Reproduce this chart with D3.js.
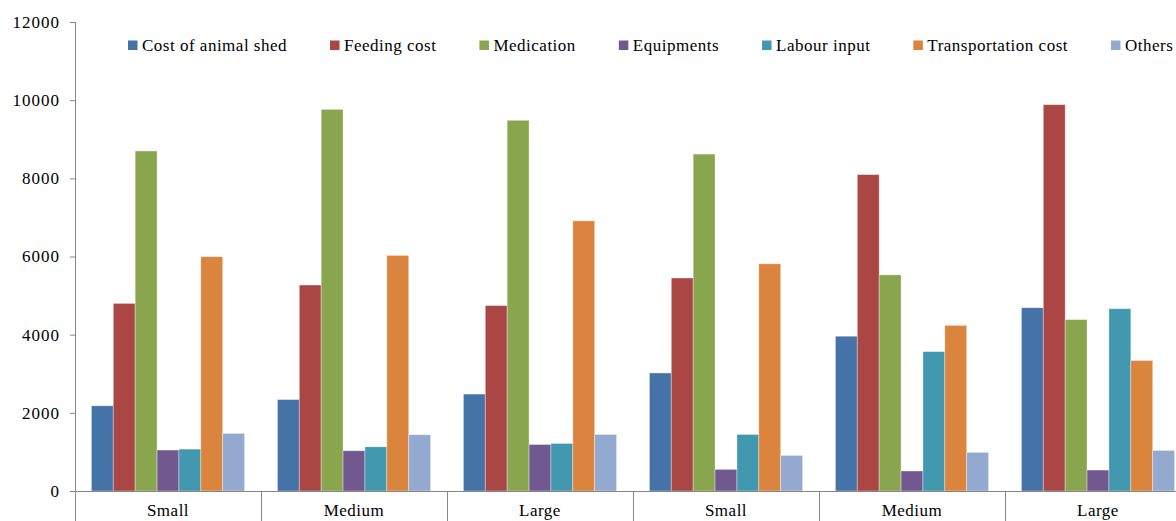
<!DOCTYPE html>
<html>
<head>
<meta charset="utf-8">
<script src="https://cdn.jsdelivr.net/npm/d3@7"></script>
<style>
    body { margin: 0; background: #fff; overflow: hidden; }
    svg text { font-family: "Liberation Serif", "Times New Roman", Times, "DejaVu Serif", serif; fill: #000; }
</style>
</head>
<body>
<svg id="chart" width="1176" height="521"></svg>
<script>
/*jslint browser: true*/

var categories = ['Small', 'Medium', 'Large', 'Small', 'Medium', 'Large'];
var seriesNames = ['Cost of animal shed', 'Feeding cost', 'Medication', 'Equipments',
    'Labour input', 'Transportation cost', 'Others'];
var seriesColors = ['#4572a7', '#aa4643', '#89a54e', '#71588f', '#4198af', '#db843d', '#93a9cf'];

var animalShed = [2180, 2340, 2480, 3020, 3960, 4690];
var feedingCost = [4800, 5270, 4745, 5450, 8095, 9885];
var medication = [8700, 9765, 9485, 8620, 5530, 4385];
var equipments = [1048, 1030, 1190, 553, 512, 536];
var labourInput = [1072, 1130, 1217, 1447, 3566, 4664];
var transportCost = [5995, 6028, 6912, 5813, 4238, 3338];
var others = [1473, 1440, 1447, 911, 988, 1039];

var yTicks = [0, 2000, 4000, 6000, 8000, 10000, 12000];

(function (d3) {
    'use strict';

    var svg = d3.select('#chart'),
        values = [animalShed, feedingCost, medication, equipments, labourInput, transportCost, others],
        serif = '"Liberation Serif", "Times New Roman", Times, "DejaVu Serif", serif',
        left = 75, bottom = 491, top = 22, step = 186,
        idx = d3.range(categories.length),
        x0, x1, y, groups, legend, lx, yAxis;

    x0 = d3.scaleBand()
        .domain(idx)
        .range([left, left + step * categories.length])
        .padding(0);

    x1 = d3.scaleBand()
        .domain(d3.range(seriesNames.length))
        .range([0, x0.bandwidth()])
        .paddingInner(0)
        .paddingOuter(0.75);

    y = d3.scaleLinear()
        .domain([0, 12000])
        .range([bottom, top]);

    // bars
    groups = svg.append('g').selectAll('g')
        .data(idx)
      .enter().append('g')
        .attr('transform', function (i) { return 'translate(' + x0(i) + ',0)'; });

    groups.selectAll('rect')
        .data(function (i) {
            return values.map(function (s, k) { return {k: k, v: s[i]}; });
        })
      .enter().append('rect')
        .attr('x', function (d) { return x1(d.k); })
        .attr('width', x1.bandwidth())
        .attr('y', function (d) { return y(d.v); })
        .attr('height', function (d) { return bottom - y(d.v); })
        .style('fill', function (d) { return seriesColors[d.k]; })
        .style('stroke', 'rgba(255,255,255,0.45)')
        .style('stroke-width', 0.8);

    // y axis
    yAxis = svg.append('g')
        .attr('transform', 'translate(' + left + ',0)')
        .call(d3.axisLeft(y).tickValues(yTicks).tickSize(5).tickPadding(10)
            .tickFormat(d3.format('d')));
    yAxis.attr('font-family', null).attr('font-size', null);
    yAxis.select('.domain').remove();
    yAxis.selectAll('line').style('stroke', '#868686');
    yAxis.selectAll('text')
        .style('font-size', '17px')
        .style('letter-spacing', '1px')
        .style('font-family', serif);
    svg.append('line')
        .attr('x1', left + 0.5).attr('x2', left + 0.5)
        .attr('y1', top).attr('y2', 521)
        .style('stroke', '#868686');

    // x axis
    svg.append('line')
        .attr('x1', left).attr('x2', 1176)
        .attr('y1', bottom + 0.5).attr('y2', bottom + 0.5)
        .style('stroke', '#868686');
    svg.append('g').selectAll('line')
        .data(idx.slice(1))
      .enter().append('line')
        .attr('x1', function (i) { return Math.round(x0(i)) + 0.5; })
        .attr('x2', function (i) { return Math.round(x0(i)) + 0.5; })
        .attr('y1', bottom)
        .attr('y2', 521)
        .style('stroke', '#868686');
    svg.append('g').selectAll('text')
        .data(idx)
      .enter().append('text')
        .attr('x', function (i) { return x0(i) + x0.bandwidth() / 2; })
        .attr('y', 516)
        .attr('text-anchor', 'middle')
        .style('font-size', '17px')
        .style('font-family', serif)
        .style('letter-spacing', '0.5px')
        .text(function (i) { return categories[i]; });

    // legend
    legend = svg.append('g');
    lx = 128;
    seriesNames.forEach(function (name, k) {
        var t;
        legend.append('rect')
            .attr('x', lx).attr('y', 40.5)
            .attr('width', 9.5).attr('height', 9.5)
            .style('fill', seriesColors[k]);
        t = legend.append('text')
            .attr('x', lx + 14).attr('y', 51)
            .style('font-size', '17px')
            .style('font-family', serif)
            .style('letter-spacing', '0.5px')
            .text(name);
        lx += 14 + t.node().getComputedTextLength() + 43;
    });

}(window.d3));
</script>
</body>
</html>
